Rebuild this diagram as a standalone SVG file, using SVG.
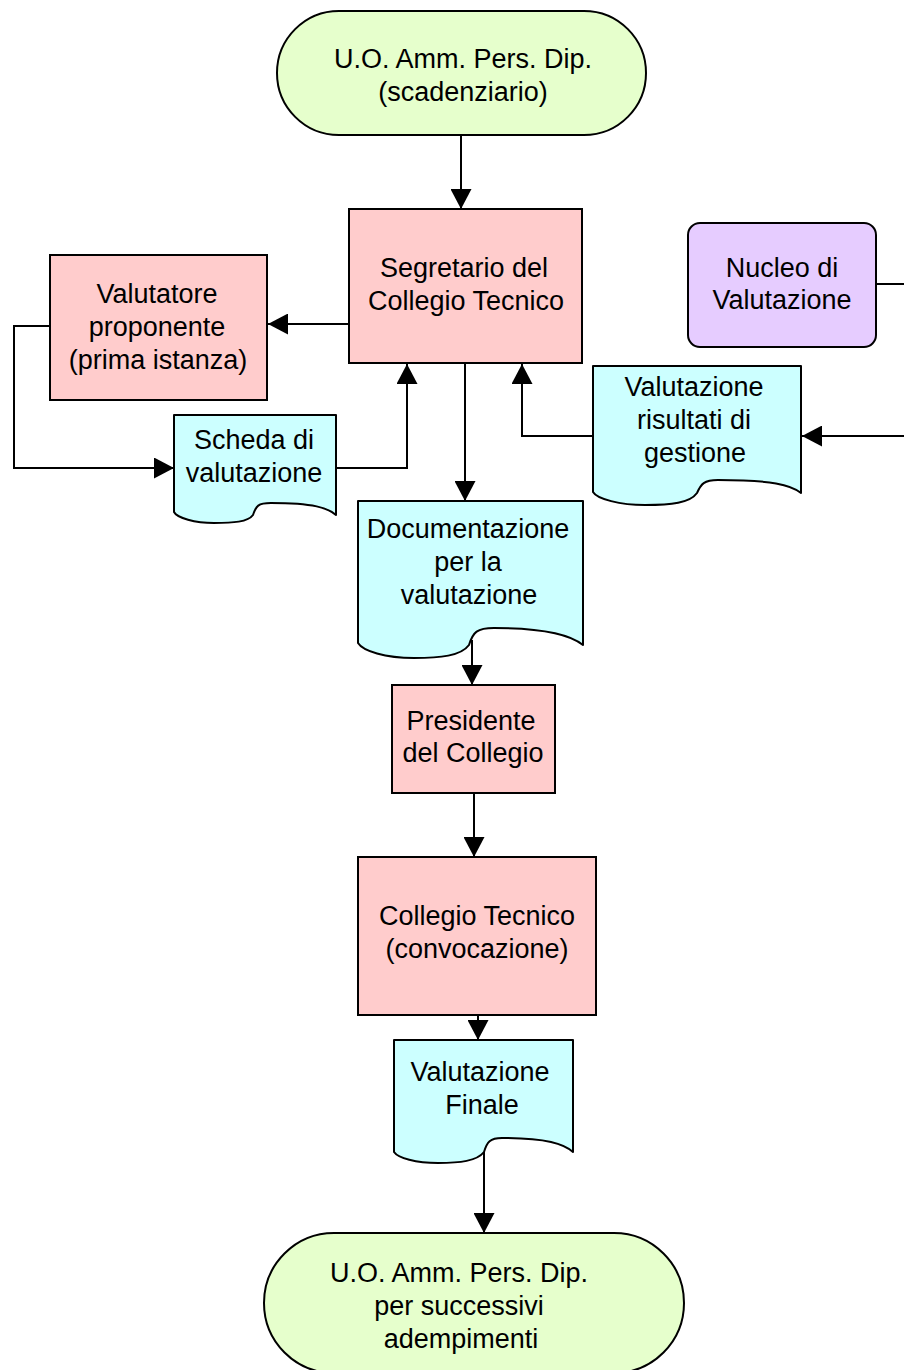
<svg xmlns="http://www.w3.org/2000/svg" width="904" height="1370" viewBox="0 0 904 1370">
  <style>
    .term { fill: #E6FFCC; stroke: #000; stroke-width: 2; }
    .proc { fill: #FFCCCC; stroke: #000; stroke-width: 2; }
    .doc  { fill: #CCFFFF; stroke: #000; stroke-width: 2; stroke-linejoin: round; }
    .ext  { fill: #E6CCFF; stroke: #000; stroke-width: 2; }
    .lbl  { font-family: "Liberation Sans", Arial, sans-serif; font-size: 27px; fill: #000; text-anchor: middle; }
    .conn { fill: none; stroke: #000; stroke-width: 2; marker-end: url(#arrow); }
    .line { fill: none; stroke: #000; stroke-width: 2; }
  </style>
  <defs>
    <marker id="arrow" viewBox="0 0 20 21" markerWidth="20" markerHeight="21" refX="20" refY="10.5" orient="auto" markerUnits="userSpaceOnUse">
      <path d="M0,0 L20,10.5 L0,21 Z" fill="#000"/>
    </marker>
  </defs>

  <rect width="904" height="1370" fill="#fff"/>

  <!-- connectors -->
  <g id="connectors">
    <path class="conn" d="M461,135 V209"/>
    <path class="conn" d="M349,324 H268"/>
    <path class="conn" d="M50,326 H14 V468 H174"/>
    <path class="conn" d="M336,468 H407 V364"/>
    <path class="line" d="M876,284 H912 V436"/>
    <path class="conn" d="M912,436 H802"/>
    <path class="conn" d="M593,436 H522 V364"/>
    <path class="conn" d="M465,363 V501"/>
    <path class="conn" d="M472,640 V685"/>
    <path class="conn" d="M474,793 V857"/>
    <path class="conn" d="M478,1015 V1040"/>
    <path class="conn" d="M484,1148 V1233"/>
  </g>

  <!-- start terminator -->
  <g id="start">
    <rect class="term" x="277" y="11" width="369" height="124" rx="62" ry="62"/>
    <text class="lbl" x="463" y="68">U.O. Amm. Pers. Dip.</text>
    <text class="lbl" x="463" y="101">(scadenziario)</text>
  </g>

  <g id="segretario">
    <rect class="proc" x="349" y="209" width="233" height="154"/>
    <text class="lbl" x="464" y="277">Segretario del</text>
    <text class="lbl" x="466" y="310">Collegio Tecnico</text>
  </g>

  <g id="valutatore">
    <rect class="proc" x="50" y="255" width="217" height="145"/>
    <text class="lbl" x="157" y="303">Valutatore</text>
    <text class="lbl" x="157" y="336">proponente</text>
    <text class="lbl" x="158" y="369">(prima istanza)</text>
  </g>

  <g id="scheda">
    <path class="doc" d="M174,415 H336 V515 C328,508 314,503 271,503 C258,503 256,506 253,515 C248,522 233,523 214,523 C195,523 177,518 174,512 Z"/>
    <text class="lbl" x="254" y="449">Scheda di</text>
    <text class="lbl" x="254" y="482">valutazione</text>
  </g>

  <g id="nucleo">
    <rect class="ext" x="688" y="223" width="188" height="124" rx="12" ry="12"/>
    <text class="lbl" x="782" y="277">Nucleo di</text>
    <text class="lbl" x="782" y="309">Valutazione</text>
  </g>

  <g id="risultati">
    <path class="doc" d="M593,366 H801 V493 C791,485 772,480 718,480 C704,480 701,484 697,493 C690,503 671,505 645,505 C620,505 597,499 593,492 Z"/>
    <text class="lbl" x="694" y="396">Valutazione</text>
    <text class="lbl" x="694" y="429">risultati di</text>
    <text class="lbl" x="695" y="462">gestione</text>
  </g>

  <g id="documentazione">
    <path class="doc" d="M358,501 H583 V645 C572,636 549,628 494,628 C477,628 473,632 469,645 C461,656 440,658 414,658 C385,658 363,651 358,643 Z"/>
    <text class="lbl" x="468" y="538">Documentazione</text>
    <text class="lbl" x="468" y="571">per la</text>
    <text class="lbl" x="469" y="604">valutazione</text>
  </g>

  <g id="presidente">
    <rect class="proc" x="392" y="685" width="163" height="108"/>
    <text class="lbl" x="471" y="730">Presidente</text>
    <text class="lbl" x="473" y="762">del Collegio</text>
  </g>

  <g id="collegio">
    <rect class="proc" x="358" y="857" width="238" height="158"/>
    <text class="lbl" x="477" y="925">Collegio Tecnico</text>
    <text class="lbl" x="477" y="958">(convocazione)</text>
  </g>

  <g id="finale">
    <path class="doc" d="M394,1040 H573 V1152 C564,1144 547,1138 502,1138 C490,1138 487,1142 484,1152 C477,1161 460,1163 438,1163 C416,1163 398,1158 394,1152 Z"/>
    <text class="lbl" x="480" y="1081">Valutazione</text>
    <text class="lbl" x="482" y="1114">Finale</text>
  </g>

  <!-- end terminator -->
  <g id="end">
    <rect class="term" x="264" y="1233" width="420" height="140" rx="70" ry="70"/>
    <text class="lbl" x="459" y="1282">U.O. Amm. Pers. Dip.</text>
    <text class="lbl" x="459" y="1315">per successivi</text>
    <text class="lbl" x="461" y="1348">adempimenti</text>
  </g>
</svg>
